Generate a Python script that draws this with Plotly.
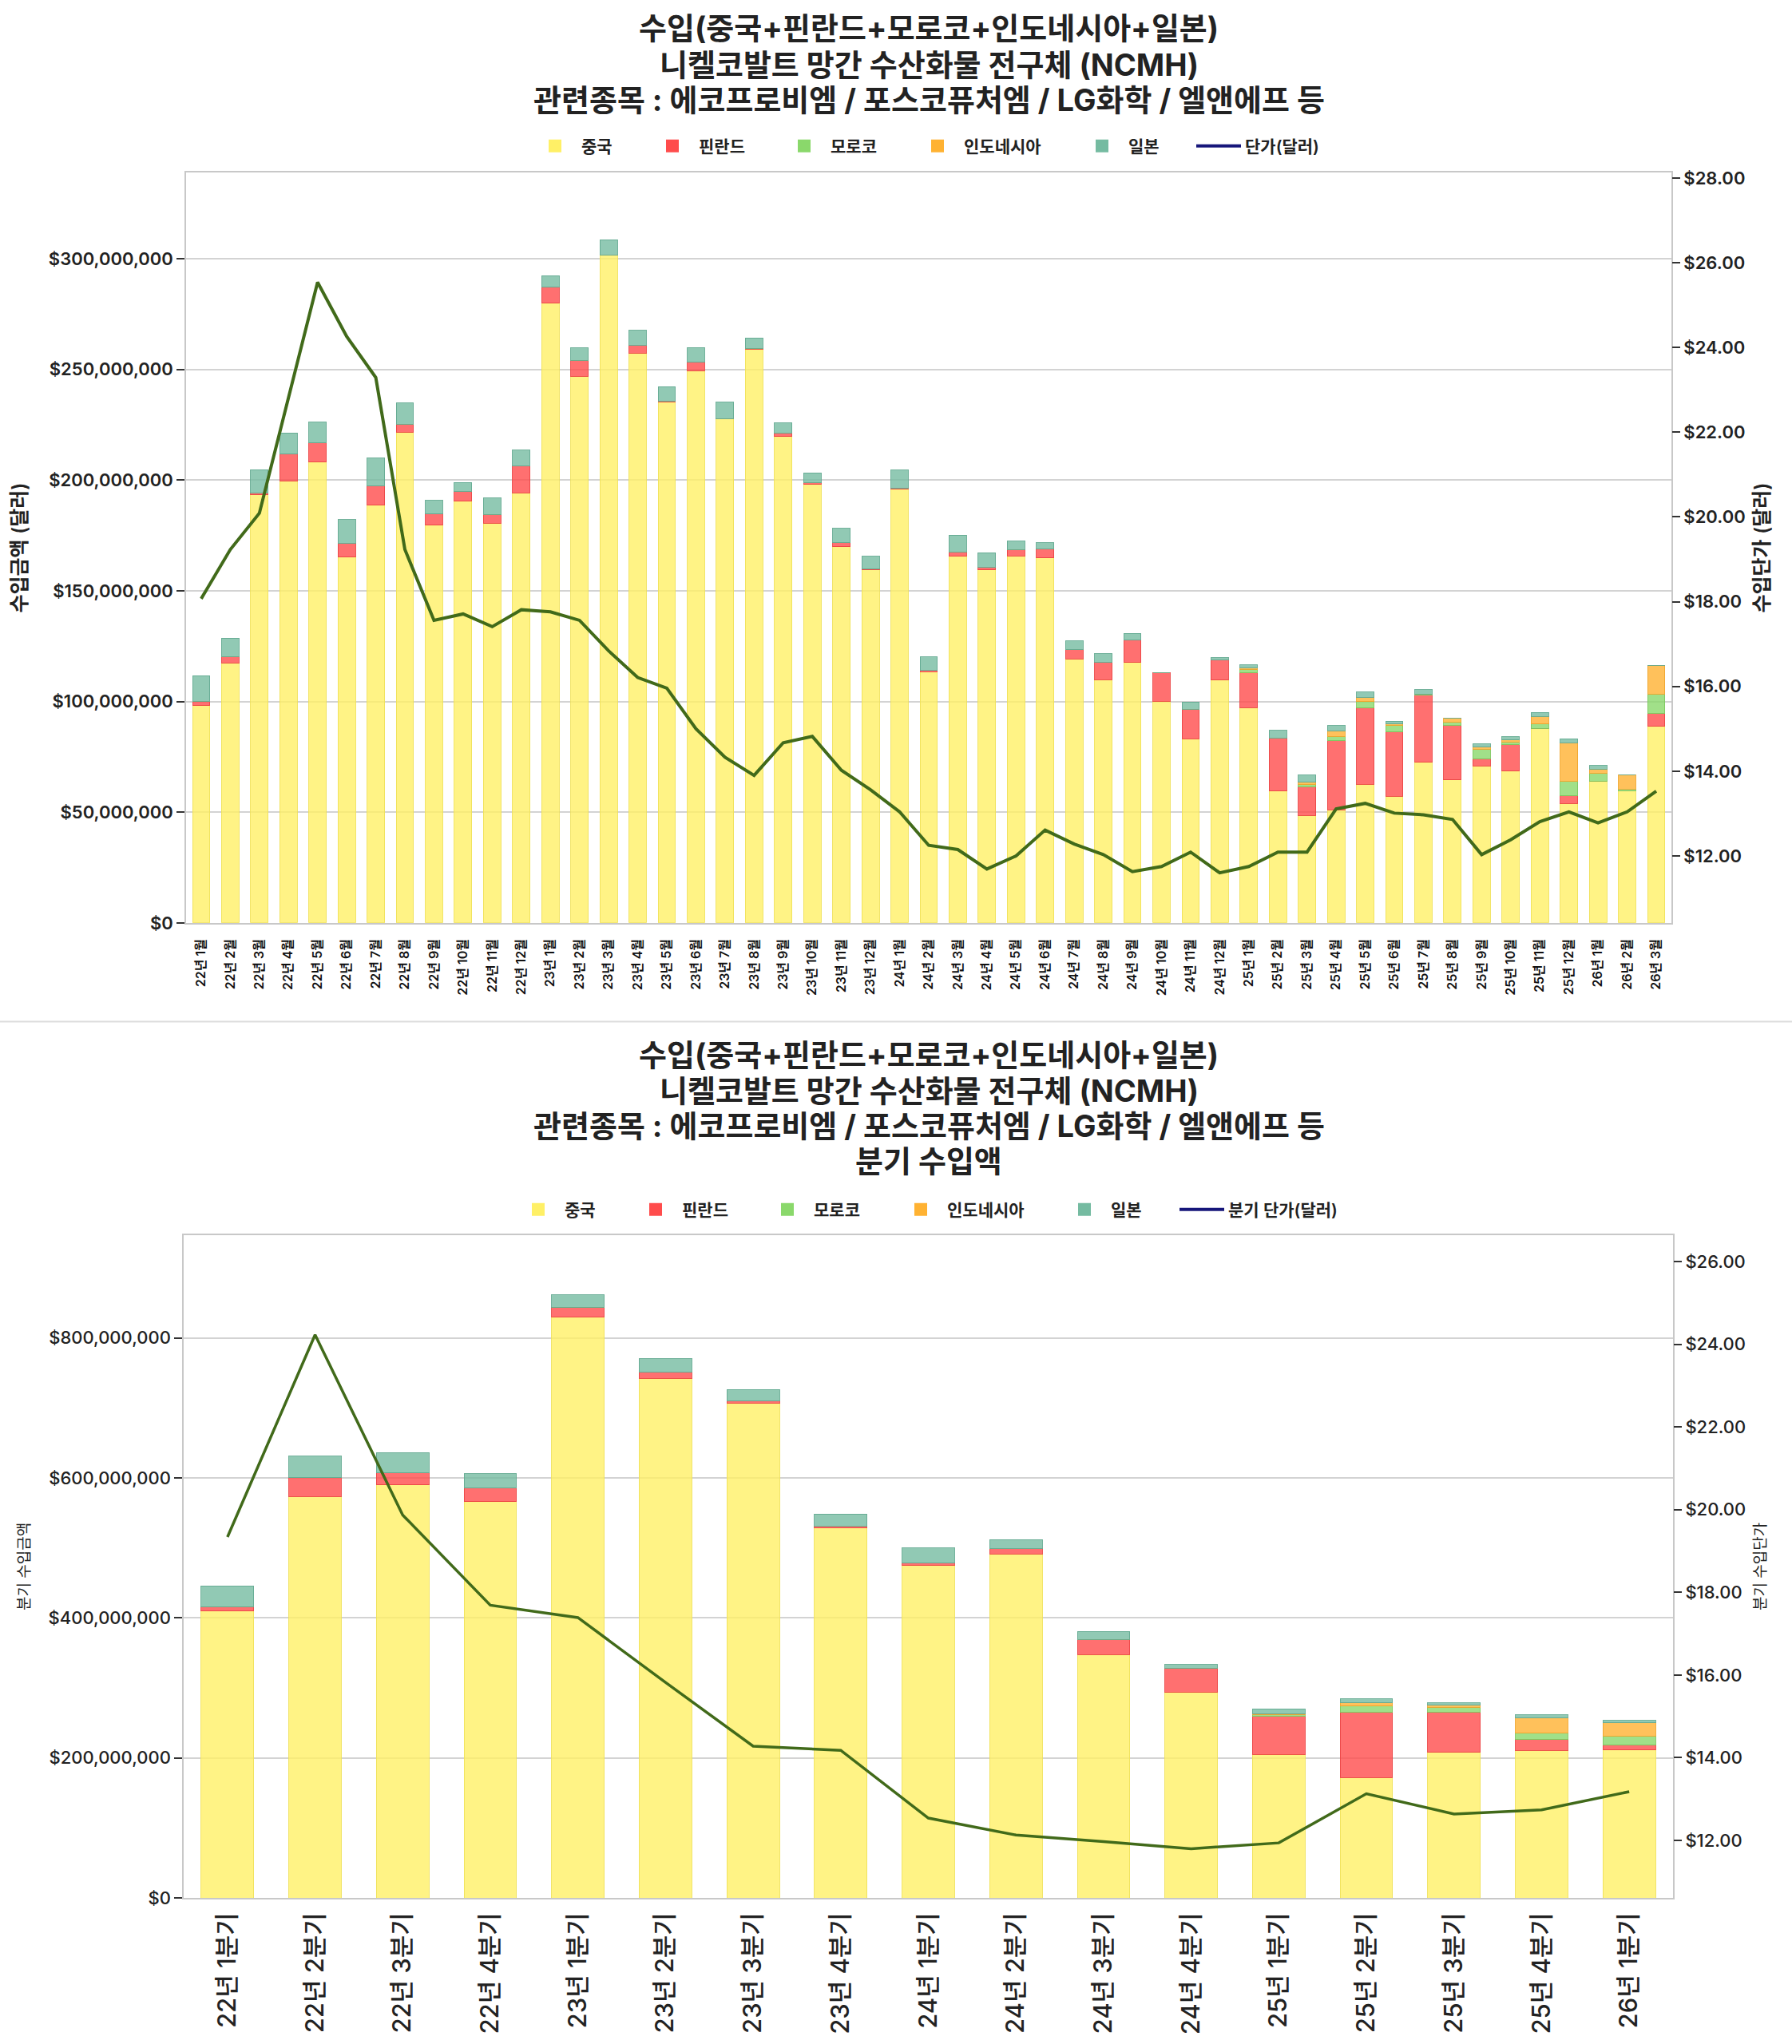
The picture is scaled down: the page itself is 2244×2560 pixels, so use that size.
import plotly.graph_objects as go

# ---------------- data ----------------
months = ["22년 1월", "22년 2월", "22년 3월", "22년 4월", "22년 5월", "22년 6월",
          "22년 7월", "22년 8월", "22년 9월", "22년 10월", "22년 11월", "22년 12월",
          "23년 1월", "23년 2월", "23년 3월", "23년 4월", "23년 5월", "23년 6월",
          "23년 7월", "23년 8월", "23년 9월", "23년 10월", "23년 11월", "23년 12월",
          "24년 1월", "24년 2월", "24년 3월", "24년 4월", "24년 5월", "24년 6월",
          "24년 7월", "24년 8월", "24년 9월", "24년 10월", "24년 11월", "24년 12월",
          "25년 1월", "25년 2월", "25년 3월", "25년 4월", "25년 5월", "25년 6월",
          "25년 7월", "25년 8월", "25년 9월", "25년 10월", "25년 11월", "25년 12월",
          "26년 1월", "26년 2월", "26년 3월"]

# monthly import value (USD millions)
china_m = [98.2, 117.5, 193.4, 199.7, 208.1, 165.2, 188.6, 221.7, 179.6, 190.5, 180.6, 194.2,
           280.0, 246.9, 301.5, 257.4, 235.4, 249.4, 227.6, 259.2, 219.7, 198.0, 170.0, 159.5,
           195.9, 113.4, 165.6, 159.5, 165.7, 164.8, 119.2, 109.9, 117.6, 100.1, 83.1, 109.6,
           97.2, 59.6, 48.6, 51.0, 62.6, 57.2, 72.5, 64.6, 70.9, 68.6, 87.8, 54.0,
           64.0, 59.5, 88.7]
finland_m = [1.9, 2.8, 0.8, 12.0, 8.7, 6.2, 8.8, 3.5, 5.2, 4.3, 4.0, 12.1,
             7.2, 7.3, 0.3, 3.4, 0.3, 3.8, 0.3, 0.3, 1.7, 1.0, 1.7, 0.3,
             0.3, 0.7, 1.9, 1.1, 2.9, 4.1, 4.2, 7.7, 10.2, 13.1, 13.5, 9.1,
             15.8, 24.0, 13.0, 31.3, 34.4, 29.0, 30.3, 24.5, 3.3, 11.9, 0.0, 3.4,
             0.0, 0.0, 5.9]
morocco_m = [0, 0, 0, 0, 0, 0, 0, 0, 0, 0, 0, 0,
             0, 0, 0, 0, 0, 0, 0, 0, 0, 0, 0, 0,
             0, 0, 0, 0, 0, 0, 0, 0, 0, 0, 0, 0,
             1.5, 0.0, 0.9, 1.9, 3.0, 3.0, 0.6, 1.4, 4.3, 1.2, 2.0, 6.4,
             3.4, 0.9, 8.8]
indonesia_m = [0, 0, 0, 0, 0, 0, 0, 0, 0, 0, 0, 0,
               0, 0, 0, 0, 0, 0, 0, 0, 0, 0, 0, 0,
               0, 0, 0, 0, 0, 0, 0, 0, 0, 0, 0, 0,
               0.7, 0.0, 1.0, 2.6, 1.7, 0.6, 0.0, 1.8, 0.9, 1.0, 3.4, 17.6,
               2.1, 6.3, 12.8]
japan_m = [11.6, 8.3, 10.6, 9.7, 9.4, 10.8, 12.5, 9.7, 6.0, 4.2, 7.4, 7.2,
           5.2, 5.5, 6.9, 6.9, 6.6, 6.7, 7.3, 4.8, 4.5, 4.2, 6.6, 5.8,
           8.4, 6.1, 7.7, 6.6, 3.8, 2.8, 4.0, 4.0, 3.0, 0.0, 3.2, 1.0,
           1.3, 3.3, 3.2, 2.3, 2.5, 1.3, 2.0, 0.0, 1.4, 1.3, 1.8, 1.8,
           1.6, 0.0, 0.0]
price_m = [18.07, 19.23, 20.09, 22.85, 25.54, 24.26, 23.29, 19.23, 17.56, 17.71, 17.41, 17.81,
           17.76, 17.56, 16.84, 16.21, 15.96, 15.00, 14.33, 13.90, 14.67, 14.82, 14.02, 13.56,
           13.04, 12.25, 12.15, 11.69, 12.00, 12.61, 12.28, 12.03, 11.63, 11.75, 12.09, 11.60,
           11.75, 12.09, 12.09, 13.11, 13.24, 13.01, 12.97, 12.86, 12.03, 12.38, 12.81, 13.04,
           12.78, 13.04, 13.53]

quarters = ["22년 1분기", "22년 2분기", "22년 3분기", "22년 4분기",
            "23년 1분기", "23년 2분기", "23년 3분기", "23년 4분기",
            "24년 1분기", "24년 2분기", "24년 3분기", "24년 4분기",
            "25년 1분기", "25년 2분기", "25년 3분기", "25년 4분기",
            "26년 1분기"]
china_q = [410.1, 573.8, 590.1, 566.3, 829.8, 742.7, 707.0, 528.4,
           474.9, 491.2, 347.6, 294.1, 204.8, 172.1, 207.7, 210.7, 211.5]
finland_q = [5.9, 26.8, 17.2, 19.4, 14.1, 8.2, 3.0, 3.0,
             3.6, 7.5, 21.6, 34.2, 54.3, 92.9, 58.1, 15.7, 6.7]
morocco_q = [0, 0, 0, 0, 0, 0, 0, 0,
             0, 0, 0, 0, 2.6, 9.0, 6.7, 8.9, 13.3]
indonesia_q = [0, 0, 0, 0, 0, 0, 0, 0,
               0, 0, 0, 0, 1.7, 4.4, 3.0, 21.6, 18.7]
japan_q = [29.8, 30.5, 29.0, 20.1, 17.9, 19.3, 16.3, 17.1,
           21.7, 13.3, 11.8, 5.2, 6.8, 5.9, 2.9, 4.5, 3.6]
price_q = [19.34, 24.23, 19.87, 17.69, 17.39, 15.82, 14.28, 14.18,
           12.54, 12.13, 11.97, 11.80, 11.94, 13.13, 12.64, 12.74, 13.18]

title_lines = ["수입(중국+핀란드+모로코+인도네시아+일본)",
               "니켈코발트 망간 수산화물 전구체 (NCMH)",
               "관련종목 : 에코프로비엠 / 포스코퓨처엠 / LG화학 / 엘앤에프 등"]
title2_extra = "분기 수입액"

MIL = 1_000_000

series_names = ["중국", "핀란드", "모로코", "인도네시아", "일본"]
solid_colors = ["#FFF066", "#FF4C4C", "#8AD86B", "#FFB232", "#75BBA1"]
bar_colors = ["rgba(255,240,102,0.8)", "rgba(255,76,76,0.8)", "rgba(138,216,107,0.8)",
              "rgba(255,178,50,0.8)", "rgba(117,187,161,0.8)"]
edge_colors = ["rgba(240,225,90,0.9)", "rgba(235,70,70,0.9)", "rgba(125,200,95,0.9)",
               "rgba(240,165,45,0.9)", "rgba(100,170,145,0.9)"]
line_color = "#416A1A"
legend_line_color = "#16167A"

FONT = "Inter, 'Noto Sans CJK KR', sans-serif"

W, H = 2244, 2560
ML, MR, MT, MB = 230, 149, 216, 178
PW, PH = W - ML - MR, H - MT - MB


def py(pix):  # pixel y (from top) -> paper y
    return (H - MB - pix) / PH


def px(pix):
    return (pix - ML) / PW


# legend entry pixel anchors (left edge of each entry)
top_legend_x = [662, 809, 974, 1141, 1347, 1493]
bot_legend_x = [641, 788, 953, 1120, 1325, 1472]
TOP_LEG_Y, BOT_LEG_Y = 183, 1518

fig = go.Figure()

monthly = [china_m, finland_m, morocco_m, indonesia_m, japan_m]
quarterly = [china_q, finland_q, morocco_q, indonesia_q, japan_q]

# ---- top chart ----
for name, vals, c, e in zip(series_names, monthly, bar_colors, edge_colors):
    fig.add_trace(go.Bar(x=months, y=[v * MIL for v in vals], name=name,
                         marker=dict(color=c, line=dict(color=e, width=1)),
                         xaxis="x", yaxis="y", showlegend=False))
for i, (name, c) in enumerate(zip(series_names, solid_colors)):
    fig.add_trace(go.Scatter(x=[None], y=[None], mode="markers", name=name,
                             marker=dict(symbol="square", size=16, color=c),
                             xaxis="x", yaxis="y", legend=f"legend{i + 1 if i else ''}"))
fig.add_trace(go.Scatter(x=[None], y=[None], mode="lines", name="단가(달러)",
                         line=dict(color=legend_line_color, width=4),
                         xaxis="x", yaxis="y2", legend="legend6"))
fig.add_trace(go.Scatter(x=months, y=price_m, mode="lines", name="단가(달러)",
                         line=dict(color=line_color, width=4),
                         xaxis="x", yaxis="y2", showlegend=False))

# ---- bottom chart ----
for name, vals, c, e in zip(series_names, quarterly, bar_colors, edge_colors):
    fig.add_trace(go.Bar(x=quarters, y=[v * MIL for v in vals], name=name,
                         marker=dict(color=c, line=dict(color=e, width=1)),
                         xaxis="x2", yaxis="y3", showlegend=False))
for i, (name, c) in enumerate(zip(series_names, solid_colors)):
    fig.add_trace(go.Scatter(x=[None], y=[None], mode="markers", name=name,
                             marker=dict(symbol="square", size=16, color=c),
                             xaxis="x2", yaxis="y3", legend=f"legend{i + 7}"))
fig.add_trace(go.Scatter(x=[None], y=[None], mode="lines", name="분기 단가(달러)",
                         line=dict(color=legend_line_color, width=4),
                         xaxis="x2", yaxis="y4", legend="legend12"))
fig.add_trace(go.Scatter(x=quarters, y=price_q, mode="lines", name="분기 단가(달러)",
                         line=dict(color=line_color, width=3.5),
                         xaxis="x2", yaxis="y4", showlegend=False))

axis_line = dict(showline=True, linecolor="#C8C8C8", linewidth=1.5, mirror=True)
ytick_common = dict(ticks="outside", ticklen=10, tickwidth=2, tickcolor="#333333")

top_tick_font = dict(family=FONT, size=22, color="#222222", weight=600)
bot_tick_font = dict(family=FONT, size=22, color="#222222", weight=500)

legend_common = dict(orientation="h", xanchor="left", yanchor="middle",
                     font=dict(family=FONT, size=21, color="#222222", weight=600),
                     itemwidth=56, itemsizing="trace", bgcolor="rgba(0,0,0,0)",
                     borderwidth=0)

legends = {}
for i, xpix in enumerate(top_legend_x):
    key = "legend" if i == 0 else f"legend{i + 1}"
    legends[key] = dict(x=px(xpix), y=py(TOP_LEG_Y), **legend_common)
for i, xpix in enumerate(bot_legend_x):
    legends[f"legend{i + 7}"] = dict(x=px(xpix), y=py(BOT_LEG_Y), **legend_common)

title_font = dict(family=FONT, size=38, color="#222222", weight=700)
annotations = []
for text, ypix in zip(title_lines, [35, 81, 125]):
    annotations.append(dict(text=text, xref="paper", yref="paper", x=px(1163), y=py(ypix),
                            xanchor="center", yanchor="middle", showarrow=False,
                            font=title_font))
for text, ypix in zip(title_lines + [title2_extra], [1324, 1369, 1413, 1457]):
    annotations.append(dict(text=text, xref="paper", yref="paper", x=px(1163), y=py(ypix),
                            xanchor="center", yanchor="middle", showarrow=False,
                            font=title_font))

fig.update_layout(
    width=W, height=H,
    margin=dict(l=ML, r=MR, t=MT, b=MB),
    paper_bgcolor="white", plot_bgcolor="white",
    barmode="stack", bargap=0.4,
    font=dict(family=FONT, color="#222222"),
    xaxis=dict(domain=[0.0016, 0.9989], anchor="y", type="category",
               categoryorder="array", categoryarray=months,
               range=[-0.52, 50.52], tickangle=-90, ticks="",
               ticklabelstandoff=12,
               tickfont=dict(family=FONT, size=16, color="#111111", weight=600),
               showgrid=False, **axis_line),
    yaxis=dict(domain=[py(1158), 1.0], anchor="x", range=[0, 339 * MIL],
               dtick=50 * MIL, tickprefix="$", tickformat=",d",
               tickfont=top_tick_font, showgrid=True, gridcolor="#D3D3D3", gridwidth=1.5,
               zeroline=False,
               title=dict(text="수입금액 (달러)", standoff=20,
                          font=dict(family=FONT, size=25, color="#222222", weight=600)),
               **axis_line, **ytick_common),
    yaxis2=dict(overlaying="y", side="right", anchor="x", range=[10.42, 28.13],
                dtick=2, tick0=12, tickprefix="$", tickformat=".2f",
                tickfont=top_tick_font, showgrid=False, zeroline=False,
                title=dict(text="수입단가 (달러)", standoff=12,
                           font=dict(family=FONT, size=25, color="#222222", weight=600)),
                **ytick_common),
    xaxis2=dict(domain=[0, 1], anchor="y3", type="category",
                categoryorder="array", categoryarray=quarters,
                range=[-0.5, 16.5], tickangle=-90, ticks="",
                ticklabelstandoff=4,
                tickfont=dict(family=FONT, size=31, color="#222222", weight=500),
                showgrid=False, **axis_line),
    yaxis3=dict(domain=[0, py(1550)], anchor="x2", range=[0, 947 * MIL],
                dtick=200 * MIL, tickprefix="$", tickformat=",d",
                tickfont=bot_tick_font, showgrid=True, gridcolor="#D3D3D3", gridwidth=1.5,
                zeroline=False,
                title=dict(text="분기 수입금액", standoff=18,
                           font=dict(family=FONT, size=19, color="#222222", weight=400)),
                **axis_line, **ytick_common),
    yaxis4=dict(overlaying="y3", side="right", anchor="x2", range=[10.61, 26.64],
                dtick=2, tick0=12, tickprefix="$", tickformat=".2f",
                tickfont=bot_tick_font, showgrid=False, zeroline=False,
                title=dict(text="분기 수입단가", standoff=12,
                           font=dict(family=FONT, size=19, color="#222222", weight=400)),
                **ytick_common),
    annotations=annotations,
    shapes=[dict(type="line", xref="paper", yref="paper", x0=px(0), x1=px(W),
                 y0=py(1282), y1=py(1282), line=dict(color="#DDDDDD", width=2))],
    **legends,
)

fig.write_html("out.html", config={"displayModeBar": False},
               post_script="document.body.style.margin='0';")
